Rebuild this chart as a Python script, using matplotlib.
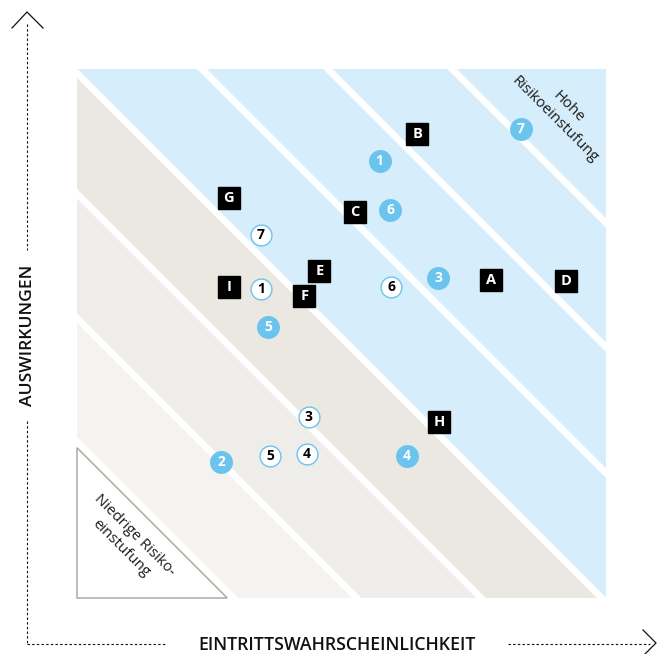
import matplotlib
matplotlib.use("Agg")
import matplotlib.pyplot as plt
from matplotlib.patches import Polygon

# ---------------- data ----------------
# band boundaries along x+y (in 0..100 units per axis)
band_lo = [30.4, 52.9, 76.4, 99.2]
band_hi = [52.9, 76.4, 99.2, 200.0]
band_colors = ["#f4f3f0", "#efede9", "#ebe8e2", "#d6eefb"]
stripe_centers = [29.4, 52.9, 76.4, 99.2, 123.6, 147.4, 170.9]
stripe_half = [1.0, 0.9, 0.9, 0.9, 0.9, 0.9, 0.9]
triangle_edge = 28.4

letters = ["A", "B", "C", "D", "E", "F", "G", "H", "I"]
letter_x = [78.3, 64.3, 52.6, 92.5, 45.8, 43.0, 28.7, 68.5, 28.7]
letter_y = [60.1, 87.8, 72.9, 59.9, 61.8, 57.0, 75.6, 33.2, 58.7]

blue_labels = ["1", "2", "3", "4", "5", "6", "7"]
blue_x = [57.2, 27.3, 68.3, 62.4, 36.1, 59.2, 83.9]
blue_y = [82.6, 25.8, 60.5, 26.8, 51.3, 73.4, 88.6]

white_labels = ["1", "3", "4", "5", "6", "7"]
white_x = [34.8, 43.8, 43.5, 36.5, 59.4, 34.7]
white_y = [58.5, 34.2, 27.2, 26.8, 58.8, 68.6]

x_label = "EINTRITTSWAHRSCHEINLICHKEIT"
y_label = "AUSWIRKUNGEN"
high_label = "Hohe\nRisikoeinstufung"
low_label = "Niedrige Risiko-\neinstufung"

# ---------------- style ----------------
plt.rcParams["font.family"] = ["Open Sans", "DejaVu Sans"]
BLUE = "#6ac4ee"
W, H = 657, 654
fig = plt.figure(figsize=(W / 100, H / 100), dpi=100)
fig.patch.set_facecolor("white")

# overlay axes in pixel coordinates for the decorative axis arrows
ov = fig.add_axes([0, 0, 1, 1])
ov.set_xlim(0, W)
ov.set_ylim(H, 0)
ov.axis("off")
dash = dict(color="#111111", lw=0.8, dashes=(2.2, 2.0))
ov.plot([27, 27], [24, 250], **dash)
ov.plot([27, 27], [421, 644], **dash)
ov.plot([27, 166], [644, 644], **dash)
ov.plot([508, 650], [644, 644], **dash)
ov.plot([12, 27, 43], [28, 12, 28], color="#111111", lw=0.9)
ov.plot([643, 656, 643], [630, 643, 656], color="#111111", lw=0.9)
ov.text(28, 335, y_label, rotation=90, ha="center", va="center",
        fontsize=12.6, fontweight="semibold", color="#111111")
ov.text(337, 645, x_label, ha="center", va="center",
        fontsize=12.8, fontweight="semibold", color="#111111")

# main square
ax = fig.add_axes([77 / W, (H - 598) / H, 529 / W, 529 / H])
ax.set_xlim(0, 100)
ax.set_ylim(0, 100)
ax.axis("off")


def band(c1, c2):
    return [(-100, c1 + 100), (c1 + 100, -100), (c2 + 100, -100), (-100, c2 + 100)]


for lo, hi, col in zip(band_lo, band_hi, band_colors):
    ax.add_patch(Polygon(band(lo, hi), closed=True, facecolor=col,
                         edgecolor="none", zorder=1))
for c, hw in zip(stripe_centers, stripe_half):
    ax.add_patch(Polygon(band(c - hw, c + hw), closed=True, facecolor="white",
                         edgecolor="none", zorder=2))
# white triangle with grey border
ax.add_patch(Polygon([(0, 0), (triangle_edge, 0), (0, triangle_edge)], closed=True,
                     facecolor="white", edgecolor="#b3b1a8", lw=1.2, zorder=3,
                     clip_on=False))

# markers
ax.plot(letter_x, letter_y, ls="none", marker="s", ms=16.3, mfc="black",
        mec="black", zorder=5)
for t, x, y in zip(letters, letter_x, letter_y):
    ax.text(x, y, t, ha="center", va="center", color="white", fontsize=10.5,
            fontweight="bold", zorder=6)

ax.plot(blue_x, blue_y, ls="none", marker="o", ms=15.5, mfc=BLUE, mec=BLUE,
        zorder=5)
for t, x, y in zip(blue_labels, blue_x, blue_y):
    ax.text(x, y, t, ha="center", va="center", color="white", fontsize=10,
            fontweight="bold", zorder=6)

ax.plot(white_x, white_y, ls="none", marker="o", ms=15.0, mfc="white", mec=BLUE,
        mew=1.0, zorder=5)
for t, x, y in zip(white_labels, white_x, white_y):
    ax.text(x, y, t, ha="center", va="center", color="black", fontsize=10,
            fontweight="bold", zorder=6)

# region labels
ax.text(91.6, 91.6, high_label, rotation=-45, rotation_mode="anchor",
        ha="center", va="center", fontsize=10.8, fontweight="normal",
        color="#1a1a1a", linespacing=1.3, zorder=6)
ax.text(9.6, 10.6, low_label, rotation=-45, rotation_mode="anchor",
        ha="center", va="center", fontsize=10.8, fontweight="normal",
        color="#1a1a1a", linespacing=1.3, zorder=6)

fig.savefig("out.png", dpi=100, facecolor="white")
